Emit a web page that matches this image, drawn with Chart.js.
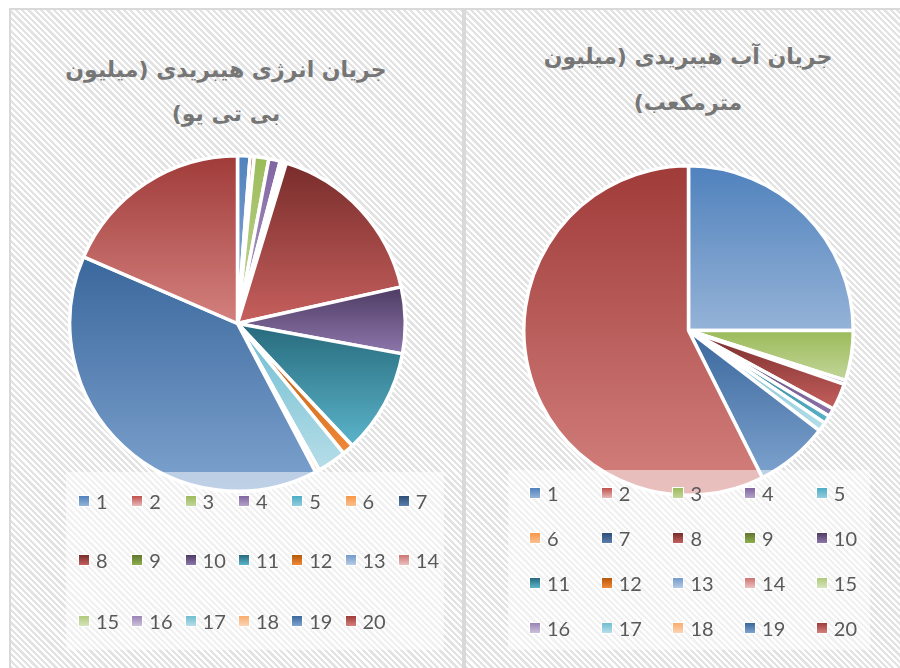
<!DOCTYPE html>
<html>
<head>
<meta charset="utf-8">
<script src="https://cdn.jsdelivr.net/npm/chart.js@4.4.0/dist/chart.umd.min.js"></script>
<style>
  body { margin: 0; background: #fff; }
  #page { position: relative; width: 900px; height: 668px; overflow: hidden; background: #fff; }
  .panel {
    position: absolute; top: 8px; height: 700px;
    border: 2px solid #d9d9d9;
    background: repeating-linear-gradient(45deg, #ffffff 0px, #ffffff 2.2px, #e3e3e3 2.2px, #e3e3e3 4.5px);
  }
  #panelL { left: 9px; width: 451px; }
  #panelR { left: 464px; width: 500px; border-right: none; }
  canvas { position: absolute; }
  .title {
    position: absolute; width: 420px; text-align: center;
    font: bold 22px "DejaVu Sans", sans-serif; color: #767676; line-height: 44px;
    white-space: nowrap;
  }
  .legBox { position: absolute; background: rgba(255,255,255,0.5); }
  .legItem { position: absolute; height: 24px; white-space: nowrap; }
  .legItem i { position: absolute; left: 0; top: 6px; width: 10px; height: 10px; border: 1px solid #fff; }
  .legItem b { position: absolute; left: 18px; top: 0; font: 20px Lato, sans-serif; line-height: 24px; color: #595959; font-weight: normal; }
</style>
</head>
<body>
<div id="page">
  <div class="panel" id="panelL"></div>
  <div class="panel" id="panelR"></div>
  <canvas id="pieEnergy" width="339" height="339" style="left:68px;top:154px"></canvas>
  <canvas id="pieWater" width="333" height="333" style="left:522px;top:164px"></canvas>
</div>
<script>
// داده ها
const labels = ['1', '2', '3', '4', '5', '6', '7', '8', '9', '10',
  '11', '12', '13', '14', '15', '16', '17', '18', '19', '20'];

const energyValues = [1.2, 0.4, 1.4, 1.1, 0.3, 0, 0.3, 16.8, 0, 6.4,
  10.1, 1.1, 0, 0, 0, 0, 2.8, 0.4, 39.2, 18.5];

const waterValues = [25.0, 0, 4.9, 0.4, 0, 0, 0, 2.6, 0, 0.8,
  0.8, 0, 0, 0, 0, 0, 0.9, 0, 7.2, 57.4];

const titleEnergy = ['جریان انرژی هیبریدی (میلیون', 'بی تی یو)'];
const titleWater = ['جریان آب هیبریدی (میلیون', 'مترمکعب)'];

// رنگ ها: بالا / پایین هر قطاع (گرادیان)
const sliceColors = [
  ['#4f81bd', '#95b3d7'], ['#c0504d', '#e6b9b8'], ['#9bbb59', '#c3d69b'],
  ['#8064a2', '#b3a2c7'], ['#4bacc6', '#93cddd'], ['#f79646', '#fac090'],
  ['#2c4d75', '#5a7fae'], ['#772c2a', '#c6605e'], ['#5f7530', '#8fb04d'],
  ['#4d3b62', '#8f77ad'], ['#276a7c', '#5cb5cb'], ['#b65708', '#f08a3a'],
  ['#729aca', '#b7cbe6'], ['#cd7371', '#ebc1c0'], ['#afc97a', '#d7e4bd'],
  ['#9983b5', '#ccc1da'], ['#6fbdd1', '#b7dee8'], ['#f9ab6b', '#fcd5b5'],
  ['#3a679c', '#7ea3cf'], ['#9f3b39', '#d4817e']
];

// گرادیان عمودی روی محدوده خود قطاع
function sliceGradient(ctx) {
  const chart = ctx.chart;
  const area = chart.chartArea;
  const pair = sliceColors[ctx.dataIndex];
  if (!area) return pair[0];
  const data = ctx.dataset.data;
  const total = data.reduce((a, b) => a + b, 0);
  let before = 0;
  for (let i = 0; i < ctx.dataIndex; i++) before += data[i];
  const a0 = -Math.PI / 2 + before / total * 2 * Math.PI;
  const a1 = a0 + data[ctx.dataIndex] / total * 2 * Math.PI;
  const cy = (area.top + area.bottom) / 2;
  const r = Math.min(area.width, area.height) / 2;
  const ys = [cy, cy + r * Math.sin(a0), cy + r * Math.sin(a1)];
  [-Math.PI / 2, Math.PI / 2, 3 * Math.PI / 2].forEach(k => {
    if (k >= a0 && k <= a1) ys.push(cy + r * Math.sin(k));
  });
  const top = Math.min(...ys);
  const bot = Math.max(...ys) + 0.5;
  const g = chart.ctx.createLinearGradient(0, top, 0, bot);
  g.addColorStop(0, pair[0]);
  g.addColorStop(1, pair[1]);
  return g;
}

function makePie(id, values) {
  return new Chart(document.getElementById(id), {
    type: 'pie',
    data: {
      labels: labels,
      datasets: [{
        data: values,
        backgroundColor: sliceGradient,
        borderColor: '#ffffff',
        borderWidth: 3.5,
        hoverOffset: 0
      }]
    },
    options: {
      responsive: false,
      animation: false,
      events: [],
      layout: { padding: 0 },
      plugins: { legend: { display: false }, tooltip: { enabled: false } }
    }
  });
}

const chartEnergy = makePie('pieEnergy', energyValues);
const chartWater = makePie('pieWater', waterValues);

// عنوان ها
const page = document.getElementById('page');
function addTitle(lines, cx, ys) {
  lines.forEach((txt, i) => {
    const d = document.createElement('div');
    d.className = 'title';
    d.textContent = txt;
    d.dir = 'rtl';
    d.style.left = (cx - 210) + 'px';
    d.style.top = (ys[i] - 22) + 'px';
    page.appendChild(d);
  });
}
addTitle(titleEnergy, 226, [70, 114]);
addTitle(titleWater, 688, [57, 103]);

// راهنما
function addLegend(box, x0, dx, rowsY, cols) {
  const b = document.createElement('div');
  b.className = 'legBox';
  b.style.left = box[0] + 'px'; b.style.top = box[1] + 'px';
  b.style.width = box[2] + 'px'; b.style.height = box[3] + 'px';
  page.appendChild(b);
  labels.forEach((lab, i) => {
    const c = i % cols, r = Math.floor(i / cols);
    const it = document.createElement('div');
    it.className = 'legItem';
    it.style.left = (x0 + c * dx) + 'px';
    it.style.top = (rowsY[r] - 12) + 'px';
    const sw = document.createElement('i');
    sw.style.background = 'linear-gradient(' + sliceColors[i][0] + ',' + sliceColors[i][1] + ')';
    const t = document.createElement('b');
    t.textContent = lab;
    it.appendChild(sw);
    it.appendChild(t);
    page.appendChild(it);
  });
}
addLegend([66, 472, 378, 178], 78, 53.3, [501, 560, 621], 7);
addLegend([508, 470, 362, 180], 529, 71.7, [493, 538, 583, 628], 5);
</script>
</body>
</html>
